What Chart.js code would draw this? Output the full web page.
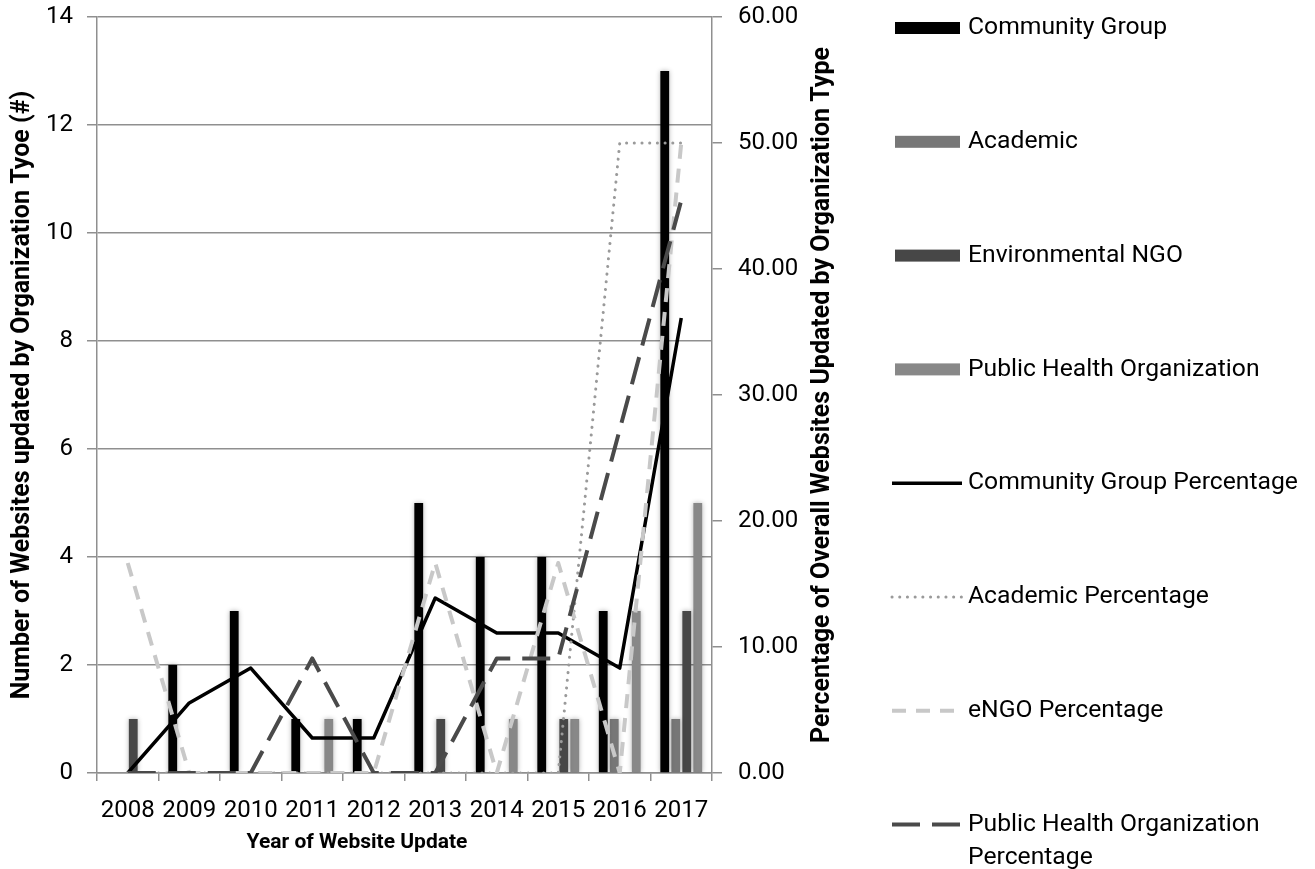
<!DOCTYPE html>
<html>
<head>
<meta charset="utf-8">
<script src="https://cdn.jsdelivr.net/npm/chart.js@4.4.1/dist/chart.umd.min.js"></script>
<style>
  html, body { margin: 0; padding: 0; background: #ffffff; }
  canvas { display: block; }
</style>
</head>
<body>
<canvas id="chart" width="1315" height="869"></canvas>
<script>
// Website updates per year, by organization type
const years = ['2008', '2009', '2010', '2011', '2012', '2013', '2014', '2015', '2016', '2017'];

const communityGroup   = [0, 2, 3, 1, 1, 5, 4, 4, 3, 13];
const academic         = [0, 0, 0, 0, 0, 0, 0, 0, 1, 1];
const environmentalNgo = [1, 0, 0, 0, 0, 1, 0, 1, 0, 3];
const publicHealth     = [0, 0, 0, 1, 0, 0, 1, 1, 3, 5];

// Share of each type's overall updates falling in each year (%)
const communityGroupPct = [0, 5.56, 8.33, 2.78, 2.78, 13.89, 11.11, 11.11, 8.33, 36.11];
const academicPct       = [0, 0, 0, 0, 0, 0, 0, 0, 50, 50];
const engoPct           = [16.67, 0, 0, 0, 0, 16.67, 0, 16.67, 0, 50];
const publicHealthPct   = [0, 0, 0, 9.09, 0, 0, 9.09, 9.09, 27.27, 45.45];

// Axis ranges
const countAxis = { min: 0, max: 14, step: 2 };
const pctAxis   = { min: 0, max: 60, step: 10 };

const FONT = 'Roboto';
const AXIS_GRAY = '#8f8f8f';

// Soft halo behind the columns
const barGlow = {
  id: 'barGlow',
  beforeDatasetDraw(chart, args) {
    const ds = chart.data.datasets[args.index];
    if ((ds.type || 'bar') !== 'bar') return;
    const ctx = chart.ctx;
    ctx.save();
    ctx.shadowColor = 'rgba(0,0,0,0.30)';
    ctx.shadowBlur = 5;
  },
  afterDatasetDraw(chart, args) {
    const ds = chart.data.datasets[args.index];
    if ((ds.type || 'bar') !== 'bar') return;
    chart.ctx.restore();
  }
};

// Free-standing axis titles (x title and the upward-reading right title)
const axisTitles = {
  id: 'axisTitles',
  afterDraw(chart, args, opts) {
    const { ctx, chartArea } = chart;
    ctx.save();
    ctx.fillStyle = '#000';
    ctx.textAlign = 'center';
    ctx.textBaseline = 'middle';

    ctx.font = `bold ${opts.bottom.size}px ${FONT}`;
    ctx.fillText(opts.bottom.text, opts.bottom.x, opts.bottom.y);

    ctx.translate(opts.right.x, (chartArea.top + chartArea.bottom) / 2);
    ctx.rotate(-Math.PI / 2);
    ctx.font = `bold ${opts.right.size}px ${FONT}`;
    ctx.fillText(opts.right.text, 0, 0);
    ctx.restore();
  }
};

// Legend column on the right, one entry per dataset
const sideLegend = {
  id: 'sideLegend',
  afterDraw(chart, args, o) {
    const ctx = chart.ctx;
    chart.data.datasets.forEach((ds, i) => {
      const y = o.top + i * o.step;
      ctx.save();
      if ((ds.type || 'bar') === 'bar') {
        ctx.fillStyle = ds.backgroundColor;
        ctx.fillRect(o.x + 3, y - 6, 65, 12);
      } else {
        ctx.strokeStyle = ds.borderColor;
        ctx.lineWidth = ds.borderWidth;
        ctx.setLineDash(ds.borderDash || []);
        ctx.lineCap = ds.borderCapStyle || 'butt';
        ctx.beginPath();
        ctx.moveTo(o.x, y);
        ctx.lineTo(o.x + 70, y);
        ctx.stroke();
      }
      ctx.restore();

      ctx.save();
      ctx.font = `${o.size}px ${FONT}`;
      ctx.fillStyle = '#000';
      ctx.textAlign = 'left';
      ctx.textBaseline = 'middle';
      const words = ds.label.split(' ');
      const lines = [];
      let cur = '';
      words.forEach(w => {
        const test = cur ? cur + ' ' + w : w;
        if (cur && ctx.measureText(test).width > o.maxWidth) {
          lines.push(cur);
          cur = w;
        } else {
          cur = test;
        }
      });
      lines.push(cur);
      lines.forEach((ln, k) => ctx.fillText(ln, o.textX, y + k * o.lineHeight));
      ctx.restore();
    });
  }
};

const barCommon = {
  type: 'bar',
  yAxisID: 'y',
  order: 10,
  categoryPercentage: 0.716,
  barPercentage: 0.8,
  borderWidth: 0
};
const lineCommon = {
  type: 'line',
  yAxisID: 'y1',
  pointRadius: 0,
  pointHoverRadius: 0,
  tension: 0,
  fill: false,
  borderJoinStyle: 'round'
};

// keep the plot edges where the layout padding puts them
function fixVertical(width) {
  return scale => {
    scale.width = width;
    scale.paddingTop = 0;
    scale.paddingBottom = 0;
  };
}

new Chart(document.getElementById('chart'), {
  type: 'bar',
  data: {
    labels: years,
    datasets: [
      { ...barCommon, label: 'Community Group', data: communityGroup, backgroundColor: '#000000' },
      { ...barCommon, label: 'Academic', data: academic, backgroundColor: '#777777' },
      { ...barCommon, label: 'Environmental NGO', data: environmentalNgo, backgroundColor: '#474747' },
      { ...barCommon, label: 'Public Health Organization', data: publicHealth, backgroundColor: '#888888' },
      { ...lineCommon, label: 'Community Group Percentage', data: communityGroupPct,
        borderColor: '#000000', borderWidth: 3.5, order: 4 },
      { ...lineCommon, label: 'Academic Percentage', data: academicPct,
        borderColor: '#9a9a9a', borderWidth: 3, borderDash: [0.1, 7.6], borderCapStyle: 'round', order: 3 },
      { ...lineCommon, label: 'eNGO Percentage', data: engoPct,
        borderColor: '#c8c8c8', borderWidth: 4, borderDash: [14, 10], order: 2 },
      { ...lineCommon, label: 'Public Health Organization Percentage', data: publicHealthPct,
        borderColor: '#4a4a4a', borderWidth: 4, borderDash: [28, 12], order: 1 }
    ]
  },
  options: {
    responsive: false,
    animation: false,
    devicePixelRatio: 1,
    layout: { padding: { left: 0, top: 17, right: 445, bottom: 0 } },
    plugins: {
      legend: { display: false },
      tooltip: { enabled: false },
      axisTitles: {
        bottom: { x: 357, y: 843, size: 21, text: 'Year of Website Update' },
        right: { x: 823, size: 25, text: 'Percentage of Overall Websites Updated by Organization Type' }
      },
      sideLegend: { x: 892, textX: 968, top: 28, step: 113.8, size: 24.7, lineHeight: 33, maxWidth: 342 }
    },
    scales: {
      x: {
        offset: true,
        afterFit(scale) { scale.height = 96; },
        grid: { offset: true, drawOnChartArea: false, drawTicks: true, tickLength: 8, color: AXIS_GRAY, lineWidth: 1.5 },
        border: { display: true, color: AXIS_GRAY, width: 1.5 },
        ticks: { font: { family: FONT, size: 24 }, color: '#000', maxRotation: 0, autoSkip: false, padding: 16 }
      },
      y: {
        position: 'left',
        min: countAxis.min, max: countAxis.max,
        afterFit: fixVertical(97),
        grid: { drawOnChartArea: true, drawTicks: true, tickLength: 10, color: AXIS_GRAY, lineWidth: 1.5 },
        border: { display: true, color: AXIS_GRAY, width: 1.5 },
        ticks: { stepSize: countAxis.step, font: { family: FONT, size: 24 }, color: '#000', padding: 14 },
        title: {
          display: true, text: 'Number of Websites updated by Organization Tyoe (#)', color: '#000',
          font: { family: FONT, size: 25, weight: 'bold' }, padding: { top: 8, bottom: 0 }
        }
      },
      y1: {
        position: 'right',
        min: pctAxis.min, max: pctAxis.max,
        afterFit: fixVertical(158),
        grid: { drawOnChartArea: false, drawTicks: true, tickLength: 10, color: AXIS_GRAY, lineWidth: 1.5 },
        border: { display: true, color: AXIS_GRAY, width: 1.5 },
        ticks: {
          stepSize: pctAxis.step, font: { family: FONT, size: 24 }, color: '#000', padding: 16,
          callback: v => Number(v).toFixed(2)
        }
      }
    }
  },
  plugins: [barGlow, axisTitles, sideLegend]
});
</script>
</body>
</html>
